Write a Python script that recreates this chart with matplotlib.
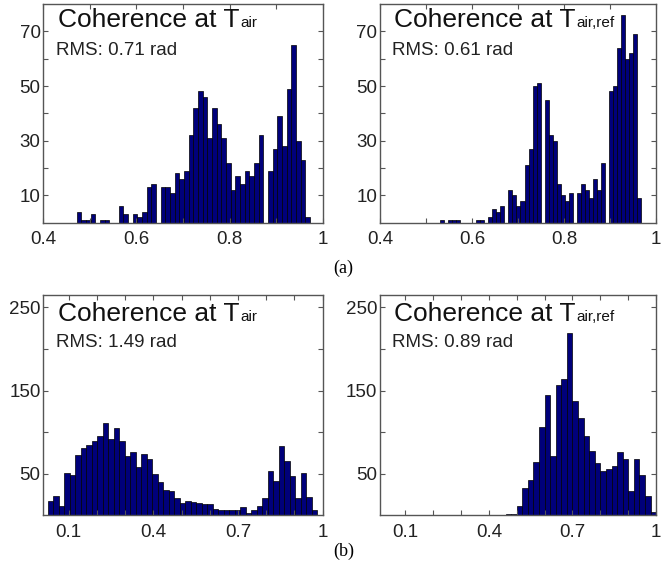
import matplotlib
matplotlib.use('Agg')
import matplotlib.pyplot as plt
import numpy as np

plt.rcParams['font.family'] = 'Liberation Sans'

# histogram counts, each panel has its own bin range
air_a_range = (0.472, 0.973)
air_a_counts = [4, 1, 1, 3, 0, 1, 1, 0, 0, 6, 3, 0, 3, 2, 4, 13, 14, 0, 13, 13,
                11, 18, 16, 19, 32, 42, 48, 46, 31, 42, 36, 31, 22, 12, 17, 14, 19, 17, 22, 32,
                0, 19, 27, 39, 28, 49, 65, 30, 23, 2]

ref_a_range = (0.530, 0.968)
ref_a_counts = [1, 0, 1, 1, 1, 0, 0, 0, 0, 1, 1, 0, 2, 5, 4, 6, 0, 12, 10, 6,
                8, 21, 27, 50, 51, 0, 45, 32, 30, 14, 10, 8, 11, 0, 11, 14, 12, 9, 16, 12,
                22, 0, 48, 50, 64, 76, 60, 62, 69, 9]

air_b_range = (0.025, 0.980)
air_b_counts = [18, 23, 11, 51, 49, 73, 81, 85, 89, 95, 111, 92, 105, 89, 72, 76, 58, 74, 68, 50,
                40, 31, 29, 21, 15, 18, 16, 15, 14, 14, 8, 6, 7, 6, 7, 10, 3, 7, 11, 21,
                54, 41, 83, 65, 48, 21, 51, 22, 7]

ref_b_range = (0.46, 1.0)
ref_b_counts = [2, 2, 11, 33, 43, 64, 106, 145, 72, 157, 164, 219, 137, 117, 95, 77, 63, 53, 56, 59,
                76, 68, 30, 68, 49, 24, 4]

rms_values = ['0.71', '0.61', '1.49', '0.89']
subscripts = ['air', 'air,ref', 'air', 'air,ref']

top_xticks = [0.4, 0.5, 0.6, 0.7, 0.8, 0.9, 1.0]
top_xlabels = ['0.4', '', '0.6', '', '0.8', '', '1']
top_yticks = [10, 20, 30, 40, 50, 60, 70]
top_ylabels = ['10', '', '30', '', '50', '', '70']
bot_xticks = [0.1, 0.2, 0.3, 0.4, 0.5, 0.6, 0.7, 0.8, 0.9, 1.0]
bot_xlabels = ['0.1', '', '', '0.4', '', '', '0.7', '', '', '1']
bot_yticks = [50, 100, 150, 200, 250]
bot_ylabels = ['50', '', '150', '', '250']

fig = plt.figure(figsize=(6.63, 5.75), dpi=100)

# axes rectangles measured in pixels of the reference
rects = [[0.0653, 0.6127, 0.4214, 0.3803],
         [0.5732, 0.6127, 0.4165, 0.3803],
         [0.0653, 0.1035, 0.4214, 0.3835],
         [0.5732, 0.1035, 0.4165, 0.3835]]

panels = [(air_a_range, air_a_counts), (ref_a_range, ref_a_counts),
          (air_b_range, air_b_counts), (ref_b_range, ref_b_counts)]

bar_color = '#00007a'
frame_color = '#555555'

axes = []
for i, (rng, counts) in enumerate(panels):
    ax = fig.add_axes(rects[i])
    edges = np.linspace(rng[0], rng[1], len(counts) + 1)
    ax.hist(edges[:-1], bins=edges, weights=counts, color=bar_color,
            edgecolor='black', linewidth=0.5)

    if i < 2:
        ax.set_xlim(0.4, 1.0)
        ax.set_ylim(0, 80)
        ax.set_xticks(top_xticks)
        ax.set_xticklabels(top_xlabels)
        ax.set_yticks(top_yticks)
        ax.set_yticklabels(top_ylabels)
        title_y, rms_y = 0.893, 0.767
    else:
        ax.set_xlim(0.01, 1.0)
        ax.set_ylim(0, 265)
        ax.set_xticks(bot_xticks)
        ax.set_xticklabels(bot_xlabels)
        ax.set_yticks(bot_yticks)
        ax.set_yticklabels(bot_ylabels)
        title_y, rms_y = 0.883, 0.763

    for s in ax.spines.values():
        s.set_color(frame_color)
        s.set_linewidth(1.0)
    ax.tick_params(direction='in', length=3.5, width=0.8, color=frame_color,
                   top=True, right=True, labelsize=13.5, labelcolor='#222222')
    ax.tick_params(axis='x', pad=6)
    ax.tick_params(axis='y', pad=2)

    t = ax.text(0.052, title_y, 'Coherence at T', transform=ax.transAxes,
                fontsize=19, va='baseline', ha='left', color='#111111')
    ax.text(0.045, rms_y, 'RMS: ' + rms_values[i] + ' rad', transform=ax.transAxes,
            fontsize=13.5, va='baseline', ha='left', color='#222222')
    axes.append((ax, t, title_y, subscripts[i]))

# subscript placed right after the "T", on the same baseline
fig.canvas.draw()
for ax, t, title_y, sub in axes:
    bb = t.get_window_extent()
    x_end = ax.transAxes.inverted().transform((bb.x1, bb.y0))[0]
    ax.text(x_end + 0.003, title_y, sub, transform=ax.transAxes,
            fontsize=11, va='baseline', ha='left', color='#111111')

fig.text(0.518, 1 - 268 / 575, '(a)', family='Liberation Serif', fontsize=13,
         ha='center', va='center')
fig.text(0.518, 1 - 551 / 575, '(b)', family='Liberation Serif', fontsize=13,
         ha='center', va='center')

plt.savefig('out.png', dpi=100)
plt.close()
